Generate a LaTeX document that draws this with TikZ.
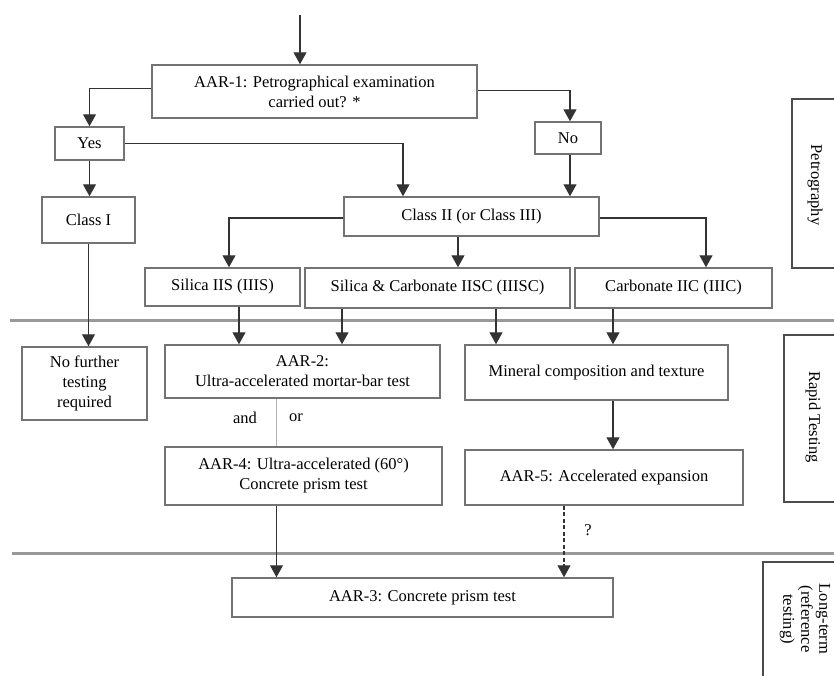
\documentclass[tikz,border=0pt]{standalone}
\usepackage{fontspec}
\setmainfont{Liberation Serif}
\usetikzlibrary{arrows.meta}
\tikzset{
  box/.style={draw=black!55, line width=1.5pt, fill=white, align=center, inner sep=2pt},
  arr/.style={draw=black!80, line width=1.2pt, -{Triangle[width=13pt,length=12pt]}},
  link/.style={draw=black!30, line width=1.6pt},
  sep/.style={draw=black!40, line width=3pt},
  side/.style={draw=black!70, line width=1.8pt},
}
\begin{document}
\begin{tikzpicture}[x=1pt,y=-1pt,font=\fontsize{16.5}{20}\selectfont]
\useasboundingbox (0,0) rectangle (834,675);
\clip (0,0) rectangle (834,675);
% Separateurs
\draw[sep] (10,320) -- (834,320);
\draw[sep] (12,553) -- (834,553);
% Bandeaux lateraux
\draw[side] (792,99) rectangle (850,268);
\node[rotate=-90] (petro) at (815,185) {Petrography};
\draw[side] (784,335) rectangle (850,502);
\draw[side] (763,562) rectangle (850,700);
\node[rotate=-90] (rapid) at (813,417) {Rapid Testing};
\node[rotate=-90, align=center, font=\fontsize{16.5}{18}\selectfont] (longterm) at (805,619) {Long-term\\(reference\\testing)};
% Petrographie
\node[box, minimum width=325pt, minimum height=53pt] (aar1) at (314.5,91.5) {AAR-1: Petrographical examination\\carried out? *};
\node[box, minimum width=69pt, minimum height=33pt] (yes) at (89.5,143.5) {Yes};
\node[box, minimum width=66pt, minimum height=32pt] (no) at (568,138) {No};
\node[box, minimum width=93pt, minimum height=46pt] (classI) at (88.5,220) {Class I};
\node[box, minimum width=255pt, minimum height=39pt] (classII) at (471.5,216.5) {Class II (or Class III)};
\node[box, minimum width=155pt, minimum height=38pt] (silica) at (222.5,287) {Silica IIS (IIIS)};
\node[box, minimum width=265pt, minimum height=40pt] (silcarb) at (437.5,288) {Silica \& Carbonate IISC (IIISC)};
\node[box, minimum width=197pt, minimum height=40pt] (carb) at (673.5,288) {Carbonate IIC (IIIC)};
% Essais rapides
\node[box, minimum width=125pt, minimum height=73pt] (nofurther) at (84.5,383.5) {No further\\testing\\required};
\node[box, minimum width=275pt, minimum height=53pt] (aar2) at (302.5,371.5) {AAR-2:\\Ultra-accelerated mortar-bar test};
\node[box, minimum width=263pt, minimum height=55pt] (mineral) at (596.5,372.5) {Mineral composition and texture};
\node[box, minimum width=277pt, minimum height=58pt] (aar4) at (303.5,476) {AAR-4: Ultra-accelerated (60°)\\Concrete prism test};
\node[box, minimum width=278pt, minimum height=55pt] (aar5) at (604,477.5) {AAR-5: Accelerated expansion};
\node (and) at (245,418) {and};
\node (or) at (296,418) {or};
\node (quest) at (588,530) {?};
% Long terme
\node[box, minimum width=381pt, minimum height=39pt] (aar3) at (422.5,597.5) {AAR-3: Concrete prism test};
% Fleches
\coordinate (start) at (300,15);
\draw[arr] (start) -- (start |- aar1.north);
\draw[arr] ([yshift=3pt]aar1.west) -| (yes.north);
\draw[arr] ([yshift=1pt]aar1.east) -| ([xshift=2pt]no.north);
\draw[arr] (yes.east) -| ([xshift=-68.5pt]classII.north);
\draw[arr] (yes.south) -- (yes.south |- classI.north);
\draw[arr] ([xshift=2pt]no.south) -- ([xshift=2pt]no.south |- classII.north);
\draw[arr] ([yshift=-1.5pt]classII.west) -| ([xshift=6.5pt]silica.north);
\draw[arr] ([yshift=-1.5pt]classII.east) -| ([xshift=32.5pt]carb.north);
\draw[arr] ([xshift=-13.5pt]classII.south) -- ([xshift=-13.5pt]classII.south |- silcarb.north);
\draw[arr] (classI.south) -- (classI.south |- nofurther.north);
\draw[arr] ([xshift=16.5pt]silica.south) -- ([xshift=16.5pt]silica.south |- aar2.north);
\draw[arr] ([xshift=-95.5pt]silcarb.south) -- ([xshift=-95.5pt]silcarb.south |- aar2.north);
\draw[arr] ([xshift=58.5pt]silcarb.south) -- ([xshift=58.5pt]silcarb.south |- mineral.north);
\draw[arr] ([xshift=-60.5pt]carb.south) -- ([xshift=-60.5pt]carb.south |- mineral.north);
\draw[arr] ([xshift=16.5pt]mineral.south) -- ([xshift=16.5pt]mineral.south |- aar5.north);
\draw[link] ([xshift=-26pt]aar2.south) -- ([xshift=-26pt]aar2.south |- aar4.north);
\draw[arr] ([xshift=-27pt]aar4.south) -- ([xshift=-27pt]aar4.south |- aar3.north);
\draw[arr, dash pattern=on 4pt off 2.5pt] ([xshift=-40pt]aar5.south) -- ([xshift=-40pt]aar5.south |- aar3.north);
\end{tikzpicture}
\end{document}
